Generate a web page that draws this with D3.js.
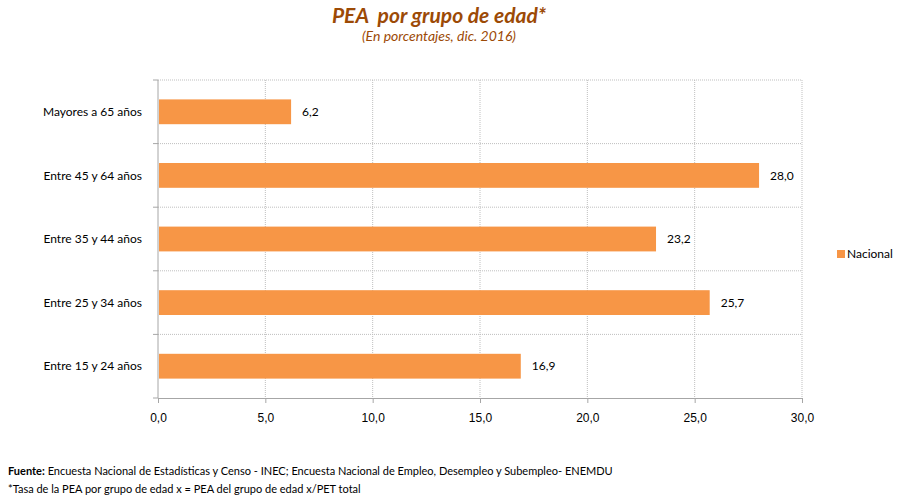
<!DOCTYPE html>
<html>
<head>
<meta charset="utf-8">
<script src="https://cdn.jsdelivr.net/npm/d3@7"></script>
<style>
  body { margin: 0; background: #fff; }
  svg { display: block; font-family: Lato, 'Open Sans', sans-serif; }
</style>
</head>
<body>
<svg id="chart"></svg>
<script>
'use strict';

// ── データ ──────────────────────────────────────────────
const categories = [
  'Mayores a 65 años',
  'Entre 45 y 64 años',
  'Entre 35 y 44 años',
  'Entre 25 y 34 años',
  'Entre 15 y 24 años',
];
const values = [6.2, 28.0, 23.2, 25.7, 16.9];
const xTicks = [0, 5, 10, 15, 20, 25, 30];
const seriesName = 'Nacional';

const W = 903, H = 501;
const M = { left: 158, right: 101, top: 80, bottom: 103 };
const BAR = '#F79646';
const GRID = '#BFBFBF';

const svg = d3.select('#chart').attr('width', W).attr('height', H);

const fmt = v => d3.format('.1f')(v).replace('.', ',');

const x = d3.scaleLinear().domain([0, 30]).range([M.left, W - M.right]);
const y = d3.scaleBand().domain(categories)
  .range([M.top, H - M.bottom]).paddingInner(0.61).paddingOuter(0.305);

// ── タイトル ──
svg.append('text')
  .attr('x', 439).attr('y', 23)
  .attr('text-anchor', 'middle')
  .attr('fill', '#9C4A06')
  .attr('font-size', 21).attr('font-weight', 700).attr('font-style', 'italic')
  .style('white-space', 'pre')
  .text('PEA  por grupo de edad*');

svg.append('text')
  .attr('x', 439).attr('y', 41)
  .attr('text-anchor', 'middle')
  .attr('fill', '#9C4A06')
  .attr('font-size', 14).attr('font-style', 'italic')
  .text('(En porcentajes, dic. 2016)');

// ── グリッド ──
const bounds = categories.map(c => y(c) - y.step() * y.paddingInner() / 2);
bounds[0] = M.top;
bounds.push(H - M.bottom);

svg.append('g').selectAll('line.v')
  .data(xTicks.slice(1))
  .join('line')
  .attr('x1', d => x(d)).attr('x2', d => x(d))
  .attr('y1', M.top).attr('y2', H - M.bottom)
  .attr('stroke', GRID).attr('stroke-dasharray', '1,1');

svg.append('g').selectAll('line.h')
  .data(bounds.slice(0, -1))
  .join('line')
  .attr('x1', M.left).attr('x2', W - M.right)
  .attr('y1', d => d).attr('y2', d => d)
  .attr('stroke', GRID).attr('stroke-dasharray', '1,1');

// ── 軸 ──
const xAxis = svg.append('g')
  .attr('transform', `translate(0,${H - M.bottom})`)
  .call(d3.axisBottom(x).tickValues(xTicks).tickFormat(fmt).tickSize(5).tickPadding(10));
xAxis.select('.domain').attr('stroke', '#A6A6A6');
xAxis.selectAll('.tick line').attr('stroke', '#A6A6A6');
xAxis.selectAll('text').attr('font-size', 12).attr('fill', '#000').attr('font-family', null);

svg.append('line')
  .attr('x1', M.left).attr('x2', M.left)
  .attr('y1', M.top).attr('y2', H - M.bottom)
  .attr('stroke', '#A6A6A6');
svg.append('g').selectAll('line')
  .data(bounds)
  .join('line')
  .attr('x1', M.left - 5).attr('x2', M.left)
  .attr('y1', d => d).attr('y2', d => d)
  .attr('stroke', '#A6A6A6');

svg.append('g').selectAll('text')
  .data(categories)
  .join('text')
  .attr('x', 142)
  .attr('y', d => y(d) + y.bandwidth() / 2)
  .attr('dy', '0.35em')
  .attr('text-anchor', 'end')
  .attr('font-size', 12)
  .text(d => d);

// ── バー ──
svg.append('g').selectAll('rect')
  .data(categories)
  .join('rect')
  .attr('x', x(0) + 1)
  .attr('y', d => y(d))
  .attr('width', (d, i) => x(values[i]) - x(0) - 1)
  .attr('height', y.bandwidth())
  .attr('fill', BAR);

svg.append('g').selectAll('text')
  .data(categories)
  .join('text')
  .attr('x', (d, i) => x(values[i]) + 11)
  .attr('y', d => y(d) + y.bandwidth() / 2)
  .attr('dy', '0.35em')
  .attr('font-size', 12)
  .text((d, i) => fmt(values[i]));

// ── 凡例 ──
svg.append('rect')
  .attr('x', 837).attr('y', 250).attr('width', 8).attr('height', 8)
  .attr('fill', BAR);
svg.append('text')
  .attr('x', 847).attr('y', 254).attr('dy', '0.35em')
  .attr('font-size', 12)
  .text(seriesName);

// ── 出典 ──
const foot = svg.append('text')
  .attr('x', 8).attr('y', 475).attr('font-size', 11);
foot.append('tspan').attr('font-weight', 700).text('Fuente:');
foot.append('tspan').text(' Encuesta Nacional de Estadísticas y Censo - INEC; Encuesta Nacional de Empleo, Desempleo y Subempleo- ENEMDU');

svg.append('text')
  .attr('x', 8).attr('y', 493).attr('font-size', 11)
  .text('*Tasa de la PEA por grupo de edad x = PEA del grupo de edad x/PET total');
</script>
</body>
</html>
